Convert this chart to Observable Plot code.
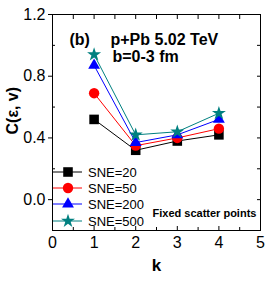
<!DOCTYPE html>
<html>
<head>
<meta charset="utf-8">
<script src="https://cdn.jsdelivr.net/npm/d3@7"></script>
<script src="https://cdn.jsdelivr.net/npm/@observablehq/plot@0.6"></script>
<style>
  body { margin: 0; background: #fff; }
  #chart svg { font-family: Arial, "Liberation Sans", sans-serif; }
</style>
</head>
<body>
<div id="chart"></div>
<script>
const ks = [1, 2, 3, 4];
const seriesNames = ["SNE=20", "SNE=50", "SNE=200", "SNE=500"];
const sne20  = [0.52, 0.32, 0.38, 0.42];
const sne50  = [0.69, 0.35, 0.40, 0.46];
const sne200 = [0.87, 0.37, 0.42, 0.52];
const sne500 = [0.94, 0.42, 0.44, 0.56];
const colors = ["#000000", "#ff0000", "#0000ff", "#008080"];
const symbols = ["square", "circle", "triangle", "star"];
const yMajor = [0, 0.4, 0.8, 1.2];
const yMinor = [-0.2, 0.2, 0.6, 1.0];
const xMajor = [0, 1, 2, 3, 4, 5];
const xMinor = [0.5, 1.5, 2.5, 3.5, 4.5];

const allVals = [sne20, sne50, sne200, sne500];
const data = [];
allVals.forEach((vals, si) => vals.forEach((v, i) => data.push({k: ks[i], c: v, s: seriesNames[si]})));

const font = "Arial, 'Liberation Sans', sans-serif";
const sizes = {"SNE=20": 5.4, "SNE=50": 5.2, "SNE=200": 4.4, "SNE=500": 4.4};

const plot = Plot.plot({
  width: 266,
  height: 281,
  marginLeft: 52,
  marginRight: 6,
  marginTop: 14,
  marginBottom: 51,
  style: {fontFamily: font, background: "#fff"},
  x: {domain: [0, 5]},
  y: {domain: [-0.2, 1.2]},
  r: {type: "identity"},
  color: {domain: seriesNames, range: colors},
  symbol: {domain: seriesNames, range: symbols},
  marks: [
    Plot.frame({stroke: "#000", strokeWidth: 1}),
    Plot.axisY({ticks: yMajor, tickSize: 4, tickPadding: 3, tickFormat: d3.format(".1f"), fontSize: 16, label: null, stroke: "#000", color: "#000"}),
    Plot.axisY({ticks: yMinor, tickSize: -3, tickPadding: 0, text: null, label: null}),
    Plot.axisY({anchor: "right", ticks: yMajor.concat(yMinor), tickSize: -4, text: null, label: null}),
    Plot.axisX({ticks: xMajor, tickSize: -4, tickPadding: 10, fontSize: 16, label: null, tickFormat: d3.format("d")}),
    Plot.axisX({ticks: xMinor, tickSize: -3, text: null, label: null}),
    Plot.axisX({anchor: "top", ticks: xMajor.concat(xMinor), tickSize: -4, text: null, label: null}),
    Plot.line(data, {x: "k", y: "c", z: "s", stroke: "s", strokeWidth: 1}),
    Plot.dot(data, {x: "k", y: "c", symbol: "s", fill: "s", stroke: null, r: d => sizes[d.s]}),
    Plot.text(["C(ε, v)"], {frameAnchor: "left", dx: -40, dy: 12, rotate: -90, fontSize: 16, fontWeight: "bold", fill: "#000"}),
    Plot.text(["k"], {frameAnchor: "bottom", dy: 40, fontSize: 17, fontWeight: "bold", fill: "#000"}),
    Plot.text(["(b)"], {frameAnchor: "top-left", textAnchor: "start", dx: 17, dy: 19, fontSize: 16, fontWeight: "bold", fill: "#000"}),
    Plot.text(["p+Pb 5.02 TeV"], {frameAnchor: "top-left", textAnchor: "start", dx: 58, dy: 19, fontSize: 16, fontWeight: "bold", fill: "#000"}),
    Plot.text(["b=0-3 fm"], {frameAnchor: "top-left", textAnchor: "start", dx: 60, dy: 36, fontSize: 16, fontWeight: "bold", fill: "#000"}),
    Plot.text(["Fixed scatter points"], {frameAnchor: "top-left", textAnchor: "start", dx: 100, dy: 195, fontSize: 11, fontWeight: "bold", fill: "#000"})
  ]
});

// Legend drawn inside the frame (lower-left)
const svg = d3.select(plot);
const leg = svg.append("g").attr("text-anchor", "start");
const rowY = [172, 188, 204, 221];
const symMap = {square: d3.symbolSquare, circle: d3.symbolCircle, triangle: d3.symbolTriangle, star: d3.symbolStar};
seriesNames.forEach((name, i) => {
  const y = rowY[i];
  const r = sizes[name];
  leg.append("line").attr("x1", 53).attr("x2", 82).attr("y1", y).attr("y2", y)
    .attr("stroke", colors[i]).attr("stroke-width", 1);
  leg.append("path").attr("transform", `translate(68,${y})`)
    .attr("d", d3.symbol(symMap[symbols[i]], r * r * Math.PI)())
    .attr("fill", colors[i]);
  leg.append("text").attr("x", 88).attr("y", y).attr("dy", "0.35em")
    .attr("text-anchor", "start")
    .attr("font-size", 13).attr("font-family", font).attr("fill", "#000").text(name);
});

document.getElementById("chart").appendChild(plot);
</script>
</body>
</html>
